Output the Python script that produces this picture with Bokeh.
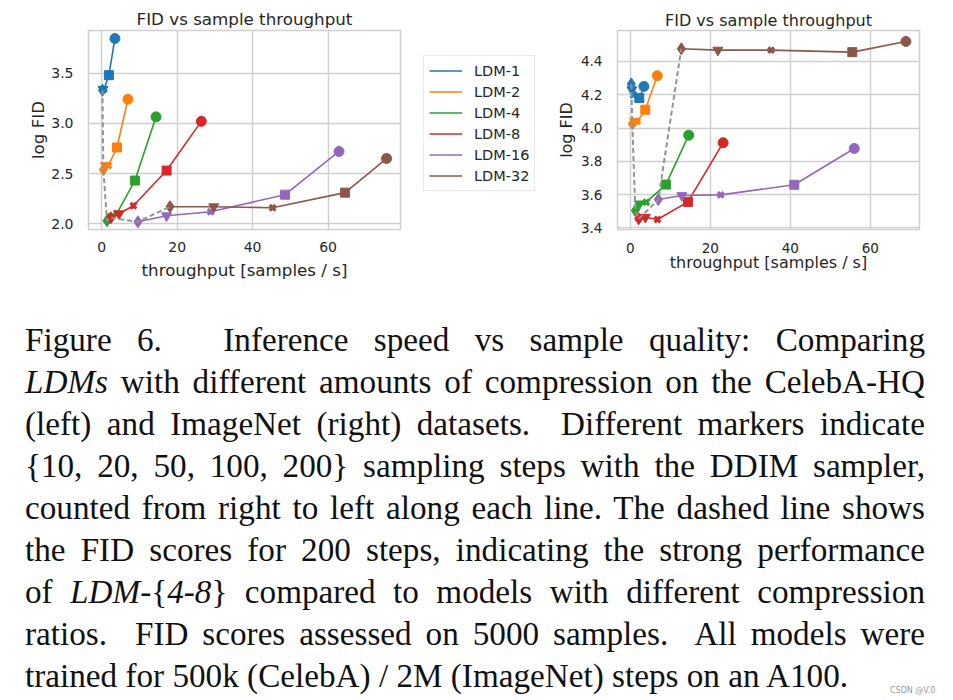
from bokeh.plotting import figure
from bokeh.models import Range1d, FixedTicker, Legend, LegendItem, Div, PrintfTickFormatter
from bokeh.layouts import row, column
from bokeh.embed import file_html
from bokeh.resources import INLINE

# ---------------- data ----------------
models = ["LDM-1", "LDM-2", "LDM-4", "LDM-8", "LDM-16", "LDM-32"]
colors = ["#1f77b4", "#ff7f0e", "#2ca02c", "#d62728", "#9467bd", "#8c564b"]
steps = [10, 20, 50, 100, 200]
step_markers = ["circle", "square", "x", "inverted_triangle", "diamond"]

# CelebA-HQ (left): throughput [samples/s] and log FID, ordered 10,20,50,100,200 steps
celeba_ldm1_tp = [3.5, 1.9, 0.6, 0.35, 0.2]
celeba_ldm1_fid = [3.845, 3.48, 3.34, 3.34, 3.33]
celeba_ldm2_tp = [6.96, 4.05, 1.76, 1.0, 0.44]
celeba_ldm2_fid = [3.24, 2.76, 2.58, 2.58, 2.54]
celeba_ldm4_tp = [14.4, 8.8, 4.0, 2.6, 1.4]
celeba_ldm4_fid = [3.065, 2.43, 2.10, 2.07, 2.03]
celeba_ldm8_tp = [26.4, 17.2, 8.4, 4.6, 2.4]
celeba_ldm8_fid = [3.02, 2.53, 2.18, 2.10, 2.06]
celeba_ldm16_tp = [62.9, 48.6, 28.9, 17.2, 9.6]
celeba_ldm16_fid = [2.72, 2.29, 2.12, 2.08, 2.02]
celeba_ldm32_tp = [75.5, 64.5, 45.3, 29.7, 18.1]
celeba_ldm32_fid = [2.65, 2.31, 2.16, 2.17, 2.17]

# ImageNet (right)
imnet_ldm1_tp = [3.4, 2.25, 0.8, 0.4, 0.25]
imnet_ldm1_fid = [4.25, 4.18, 4.20, 4.23, 4.265]
imnet_ldm2_tp = [6.75, 3.75, 1.75, 1.1, 0.5]
imnet_ldm2_fid = [4.314, 4.11, 4.04, 4.04, 4.025]
imnet_ldm4_tp = [14.6, 8.9, 4.0, 2.3, 1.25]
imnet_ldm4_fid = [3.957, 3.66, 3.554, 3.544, 3.504]
imnet_ldm8_tp = [23.2, 14.4, 6.8, 3.75, 2.1]
imnet_ldm8_fid = [3.911, 3.556, 3.45, 3.464, 3.454]
imnet_ldm16_tp = [56.0, 41.0, 22.6, 12.9, 7.0]
imnet_ldm16_fid = [3.877, 3.659, 3.598, 3.594, 3.57]
imnet_ldm32_tp = [68.9, 55.5, 35.2, 21.9, 12.75]
imnet_ldm32_fid = [4.52, 4.456, 4.468, 4.468, 4.476]

celeba_x_ticks = [0, 20, 40, 60]
celeba_y_ticks = [2.0, 2.5, 3.0, 3.5]
imnet_x_ticks = [0, 20, 40, 60]
imnet_y_ticks = [3.4, 3.6, 3.8, 4.0, 4.2, 4.4]

title_text = "FID vs sample throughput"
x_label = "throughput [samples / s]"
y_label = "log FID"

celeba_series = [
    (celeba_ldm1_tp, celeba_ldm1_fid), (celeba_ldm2_tp, celeba_ldm2_fid),
    (celeba_ldm4_tp, celeba_ldm4_fid), (celeba_ldm8_tp, celeba_ldm8_fid),
    (celeba_ldm16_tp, celeba_ldm16_fid), (celeba_ldm32_tp, celeba_ldm32_fid),
]
imnet_series = [
    (imnet_ldm1_tp, imnet_ldm1_fid), (imnet_ldm2_tp, imnet_ldm2_fid),
    (imnet_ldm4_tp, imnet_ldm4_fid), (imnet_ldm8_tp, imnet_ldm8_fid),
    (imnet_ldm16_tp, imnet_ldm16_fid), (imnet_ldm32_tp, imnet_ldm32_fid),
]

FONT = "DejaVu Sans"
TXT = "#262626"
GRID = "#d0d0d0"
MSIZE = {"circle": 10, "square": 9, "x": 8, "inverted_triangle": 10, "diamond": 12}
TOP, BOTTOM = 30, 61   # frame borders are aligned across the row


def make_panel(series, xr, yr, xt, yt, width, mbl, mbr,
               title_fs, tick_fs, t_std, x_std, x_lab_std, y_std, y_lab_std):
    p = figure(width=width, height=290, output_backend="svg", toolbar_location=None,
               x_range=Range1d(*xr), y_range=Range1d(*yr),
               min_border_left=mbl, min_border_right=mbr,
               min_border_top=TOP, min_border_bottom=BOTTOM)
    p.title.text = title_text
    p.title.align = "center"
    p.title.text_font = FONT
    p.title.text_font_size = title_fs
    p.title.text_font_style = "normal"
    p.title.text_color = TXT
    p.title.standoff = t_std
    p.outline_line_color = GRID
    p.outline_line_width = 1.5
    p.xgrid.grid_line_color = GRID
    p.ygrid.grid_line_color = GRID
    p.xgrid.grid_line_width = 1.5
    p.ygrid.grid_line_width = 1.5
    p.xaxis.ticker = FixedTicker(ticks=xt)
    p.yaxis.ticker = FixedTicker(ticks=yt)
    p.yaxis.formatter = PrintfTickFormatter(format="%.1f")
    for ax in (p.xaxis[0], p.yaxis[0]):
        ax.axis_line_color = None
        ax.major_tick_line_color = None
        ax.minor_tick_line_color = None
        ax.major_tick_out = 0
        ax.major_tick_in = 0
        ax.major_label_text_font = FONT
        ax.major_label_text_font_size = tick_fs
        ax.major_label_text_color = TXT
        ax.axis_label_text_font = FONT
        ax.axis_label_text_font_size = title_fs
        ax.axis_label_text_font_style = "normal"
        ax.axis_label_text_color = TXT
    p.xaxis.axis_label = x_label
    p.yaxis.axis_label = y_label
    p.xaxis.major_label_standoff = x_std
    p.yaxis.major_label_standoff = y_std
    p.xaxis.axis_label_standoff = x_lab_std
    p.yaxis.axis_label_standoff = y_lab_std

    for (xs, ys), c in zip(series, colors):
        p.line(xs, ys, line_color=c, line_width=1.6)
        for xi, yi, mk in zip(xs, ys, step_markers):
            if mk == "x":
                p.scatter([xi], [yi], marker=mk, size=MSIZE[mk], line_color=c, line_width=3.2)
            else:
                p.scatter([xi], [yi], marker=mk, size=MSIZE[mk], fill_color=c, line_color=c)

    # dashed line through the 200-step points
    dx = [s[0][steps.index(200)] for s in series]
    dy = [s[1][steps.index(200)] for s in series]
    p.line(dx, dy, line_color="#939393", line_width=2, line_dash="5 3")
    return p


p1 = make_panel(celeba_series, (-3.5, 79.2), (1.943, 3.925), celeba_x_ticks, celeba_y_ticks,
                410, 88, 10, "16.7px", "14px", 3, 12, 5, 15, 0)
p2 = make_panel(imnet_series, (-3.2, 72.3), (3.39, 4.586), imnet_x_ticks, imnet_y_ticks,
                400, 72, 26, "16px", "13.6px", 1, 13, -3, 15, 2)

# legend panel between the two charts
pl = figure(width=135, height=290, output_backend="svg", toolbar_location=None,
            x_range=Range1d(-200, -199), y_range=Range1d(-200, -199),
            x_axis_location=None, y_axis_location=None,
            min_border_left=0, min_border_top=TOP, min_border_right=0, min_border_bottom=BOTTOM)
pl.outline_line_color = None
pl.xgrid.visible = False
pl.ygrid.visible = False
items = []
for name, c, (xs, ys) in zip(models, colors, celeba_series):
    r = pl.line(xs, ys, line_color=c, line_width=2, line_alpha=0.75)   # off-range: only its legend swatch shows
    items.append(LegendItem(label=name, renderers=[r]))
lg = Legend(items=items, location=(13, 38))
lg.label_text_font = FONT
lg.label_text_font_size = "14.5px"
lg.label_text_color = TXT
lg.glyph_width = 33
lg.glyph_height = 19
lg.label_height = 19
lg.spacing = 2
lg.padding = 5
lg.margin = 0
lg.label_standoff = 12
lg.border_line_color = "#d4d4d4"
lg.border_line_width = 1
lg.background_fill_alpha = 1
pl.add_layout(lg, "center")

lines = [
    "Figure 6.<span style='display:inline-block;width:36px'></span> Inference speed vs sample quality: Comparing",
    "<i>LDMs</i> with different amounts of compression on the CelebA-HQ",
    "(left) and ImageNet (right) datasets.&nbsp; Different markers indicate",
    "{10, 20, 50, 100, 200} sampling steps with the DDIM sampler,",
    "counted from right to left along each line. The dashed line shows",
    "the FID scores for 200 steps, indicating the strong performance",
    "of <i>LDM</i>-{<i>4-8</i>} compared to models with different compression",
    "ratios.&nbsp; FID scores assessed on 5000 samples.&nbsp; All models were",
]
last_line = "trained for 500k (CelebA) / 2M (ImageNet) steps on an A100."

html = ("<div style=\"position:relative;width:945px;height:408px;"
        "font-family:'Liberation Serif','Times New Roman',serif;font-size:33.2px;"
        "line-height:42px;color:#111;\">"
        "<div style='position:absolute;left:25px;top:29px;width:900px;'>")
for ln in lines:
    html += ("<div style='text-align:justify;text-align-last:justify;white-space:normal;'>"
             + ln + "</div>")
html += "<div style='text-align:left;'>" + last_line + "</div></div>"
html += ("<div style='position:absolute;left:890px;top:396px;font-family:\"DejaVu Sans\";"
         "font-size:8px;line-height:10px;color:#9a9a9a;'>CSDN @V.0</div>")
html += "</div>"

div = Div(text=html, width=945, height=408, margin=0)

layout = column(row(p1, pl, p2, spacing=0), div, spacing=0)

open("out.html", "w").write(file_html(layout, INLINE))
